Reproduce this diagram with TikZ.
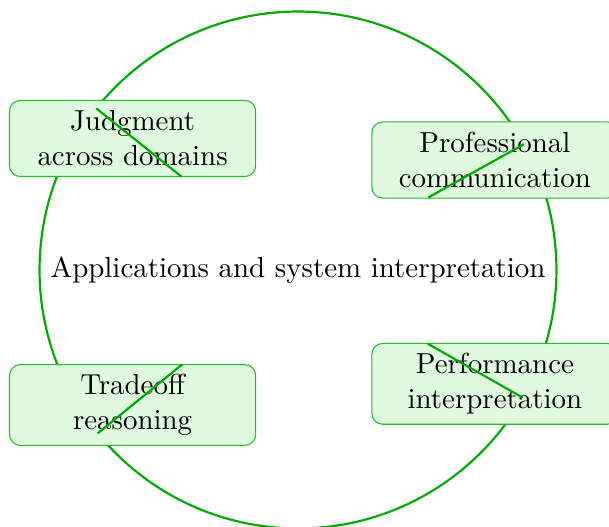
\documentclass[tikz,border=0pt]{standalone}
\usetikzlibrary{calc}
\definecolor{ringgreen}{RGB}{0,170,0}
\definecolor{boxgreen}{RGB}{224,250,224}
\definecolor{boxedge}{RGB}{40,185,40}
\begin{document}
\begin{tikzpicture}[font=\fontsize{10.7pt}{13pt}\selectfont]
        \useasboundingbox (-3.874,-3.341) rectangle (4.043,3.51);
        \tikzset{area/.style={draw=boxedge, fill=boxgreen, rounded corners=4pt,
            align=center, minimum width=3.2cm, minimum height=0.99cm, inner sep=1.5pt}}
        \draw[ringgreen, thick] (0,0) circle (3.36);
        \node (core) at (0,0) {Applications and system interpretation};
        \node[area] (judg) at (-2.15,1.71) {Judgment\\across domains};
        \node[area] (prof) at (2.56,1.43) {Professional\\communication};
        \node[area, minimum height=1.05cm] (trade) at (-2.15,-1.755) {Tradeoff\\reasoning};
        \node[area, minimum height=1.05cm] (perf) at (2.56,-1.48) {Performance\\interpretation};
        \draw[ringgreen, thick] (141.3:3.36) -- (141.3:1.94);
        \draw[ringgreen, thick] (29.1:3.36) -- (29.1:1.94);
        \draw[ringgreen, thick] (219.2:3.36) -- (219.2:1.94);
        \draw[ringgreen, thick] (-29.6:3.36) -- (-29.6:1.94);
    \end{tikzpicture}
\end{document}
